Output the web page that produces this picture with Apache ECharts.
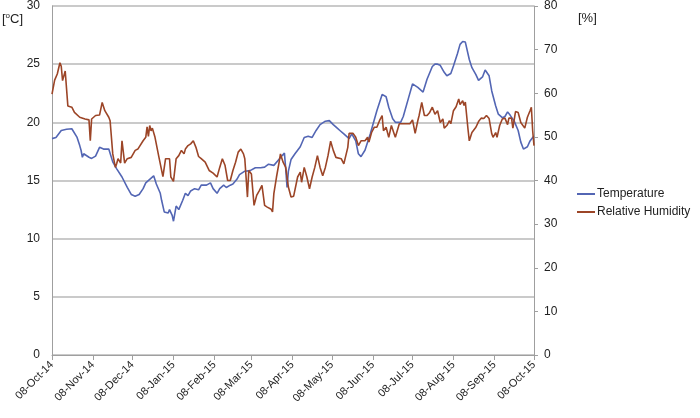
<!DOCTYPE html>
<html>
<head>
<meta charset="utf-8">
<script src="https://cdn.jsdelivr.net/npm/echarts@6/dist/echarts.min.js"></script>
<style>
  html, body { margin: 0; padding: 0; background: #fff; }
  #chart { width: 700px; height: 418px; }
</style>
</head>
<body>
<div id="chart"></div>
<script>
// Period: 08-Oct-14 .. 08-Oct-15 (daily category axis)
var startDate = [2014, 9, 8];
var dayCount = 366;
var monthNames = ['Jan','Feb','Mar','Apr','May','Jun','Jul','Aug','Sep','Oct','Nov','Dec'];

// Temperature [°C] readings: day offset from 08-Oct-14 and value
var tempDay = [0,1,3,7,11,15,16,19,21,22,23,24,28,30,33,36,39,43,44,46,49,53,57,60,63,66,69,71,74,77,79,82,83,85,88,89,91,92,94,96,99,101,103,105,108,111,113,117,120,122,125,127,130,132,135,137,140,142,146,150,154,158,161,164,168,171,174,176,177,178,179,181,184,188,191,194,197,200,203,207,210,213,216,218,221,225,227,230,232,234,237,241,244,246,250,253,255,258,260,264,266,270,273,277,281,284,288,290,292,294,297,299,302,304,307,309,311,313,316,318,321,323,326,328,331,333,336,338,341,343,345,347,350,353,355,357,360,362,364,365];
var tempC = [18.6,18.5,18.7,19.3,19.4,19.45,19.3,18.7,18.0,17.6,17.0,17.3,17.0,16.9,17.1,17.85,17.7,17.7,17.6,16.6,16.0,15.3,14.4,13.8,13.65,13.8,14.3,14.8,15.1,15.4,14.7,13.9,13.3,12.3,12.2,12.5,12.0,11.5,12.8,12.5,13.3,13.9,13.7,14.1,14.3,14.2,14.6,14.6,14.8,14.3,13.9,14.3,14.6,14.4,14.6,14.7,15.1,15.5,15.8,15.85,16.1,16.1,16.15,16.4,16.3,16.7,17.1,17.35,16.0,14.4,15.8,16.8,17.3,17.9,18.7,18.8,18.7,19.3,19.8,20.1,20.15,19.8,19.5,19.3,19.0,18.6,19.0,18.4,17.3,17.05,17.6,19.0,20.2,21.0,22.4,22.2,21.3,20.3,20.0,20.0,20.5,22.1,23.3,23.0,22.6,23.7,24.8,25.0,25.0,24.9,24.3,24.0,24.2,24.85,25.9,26.7,26.95,26.9,25.4,24.7,24.1,23.6,23.9,24.5,24.0,22.7,21.4,20.7,20.4,20.5,20.9,20.6,20.1,19.3,18.3,17.7,17.9,18.4,18.7,18.8];

// Relative Humidity [%] readings
var rhDay = [0,2,4,6,7,8,10,11,12,15,17,21,25,28,29,30,33,36,38,40,43,44,46,48,49,50,52,53,55,57,60,63,65,69,71,72,73,74,75,76,78,81,84,86,89,90,92,94,96,98,100,101,103,105,107,109,111,113,116,119,122,125,127,129,131,133,135,137,139,141,143,145,146,148,149,151,153,155,157,159,161,163,166,167,168,170,172,173,175,177,178,179,181,183,186,188,189,191,193,195,197,199,201,203,205,207,209,211,213,215,216,219,221,224,225,228,230,232,234,237,239,240,242,244,246,248,250,251,253,255,257,259,260,263,265,268,271,273,275,277,278,280,282,284,286,288,290,292,294,296,297,299,301,302,304,306,308,309,311,312,313,315,316,318,321,323,325,327,329,331,333,334,336,337,339,341,343,345,346,348,349,351,353,355,358,360,362,363,364,365];
var rhPct = [59.8,63.0,64.4,67.0,66.2,62.9,65.1,64.8,57.1,56.8,55.6,54.5,54.1,53.9,49.1,54.1,54.9,55.0,57.9,56.0,54.5,53.7,46.1,43.0,43.9,45.0,44.0,49.1,44.0,45.0,45.3,46.9,47.2,49.1,49.9,52.3,50.1,52.6,51.4,52.0,49.9,45.3,40.9,45.0,45.0,40.8,39.8,45.0,45.7,46.9,46.1,47.2,48.0,48.4,49.1,47.6,45.5,45.0,44.2,42.3,41.7,40.8,43.0,45.0,43.5,40.0,40.0,42.3,44.2,46.5,47.2,46.1,45.0,36.2,42.3,41.5,34.3,36.6,37.7,38.9,34.3,33.9,33.4,32.8,37.0,40.8,44.2,46.1,44.2,43.0,43.0,38.5,36.2,36.4,40.8,41.9,39.6,43.0,40.8,38.1,40.8,43.0,45.7,43.0,41.1,43.0,45.7,49.0,46.9,45.3,45.0,45.0,43.8,47.6,50.8,50.8,49.9,48.0,49.1,49.1,49.9,48.8,51.0,52.2,52.2,53.7,54.9,51.4,52.2,49.9,52.6,50.8,49.9,53.0,53.0,53.0,53.0,53.9,50.8,53.7,54.9,57.9,54.9,54.9,55.6,56.8,55.2,56.0,53.3,54.1,52.0,52.6,53.7,53.0,56.0,56.9,58.7,57.4,58.3,57.2,58.0,51.8,49.1,51.0,52.2,53.5,54.3,54.2,54.9,54.2,50.7,49.9,51.0,49.9,52.6,54.1,54.3,52.8,54.3,54.3,52.0,55.8,55.6,53.3,52.0,54.5,56.0,56.8,51.4,48.0];

// Axis tick values
var tempTicks = [0, 5, 10, 15, 20, 25, 30];
var rhTicks = [0, 10, 20, 30, 40, 50, 60, 70, 80];

function pad(n) { return (n < 10 ? '0' : '') + n; }
var categories = [];
var dayOfMonth = [];
for (var i = 0; i < dayCount; i++) {
  var d = new Date(Date.UTC(startDate[0], startDate[1], startDate[2] + i));
  dayOfMonth.push(d.getUTCDate());
  categories.push(pad(d.getUTCDate()) + '-' + monthNames[d.getUTCMonth()] + '-' + String(d.getUTCFullYear()).slice(2));
}
function toSeries(days, vals) {
  var arr = new Array(dayCount).fill(null);
  for (var k = 0; k < days.length; k++) arr[days[k]] = vals[k];
  return arr;
}
var isMonthTick = function (idx) { return dayOfMonth[idx] === 8; };

var font = 'Liberation Sans';
var chart = echarts.init(document.getElementById('chart'), null, { renderer: 'canvas' });
chart.setOption({
  animation: false,
  backgroundColor: '#ffffff',
  textStyle: { fontFamily: font },
  grid: { left: 52, right: 166, top: 5, bottom: 63, containLabel: false },
  legend: {
    orient: 'vertical',
    left: 572,
    top: 183,
    itemWidth: 18,
    itemHeight: 2,
    itemGap: 6,
    icon: 'rect',
    textStyle: { fontFamily: font, fontSize: 12, color: '#222', padding: [0, 0, 0, -3] },
    data: ['Temperature', 'Relative Humidity']
  },
  graphic: [
    { type: 'text', left: 2, top: 12, style: { text: '[{s|o}C]', fontFamily: font, fontSize: 13, fill: '#222',
      rich: { s: { fontSize: 8, verticalAlign: 'top', padding: [0, 0, 6, 0], fill: '#222', fontFamily: font } } } },
    { type: 'text', left: 578, top: 12, style: { text: '[%]', fontFamily: font, fontSize: 13, fill: '#222' } }
  ],
  xAxis: {
    type: 'category',
    data: categories,
    boundaryGap: false,
    axisLine: { show: true, lineStyle: { color: '#9f9f9f', width: 1 } },
    axisTick: { show: true, interval: isMonthTick, length: 5, lineStyle: { color: '#9f9f9f' } },
    axisLabel: { interval: isMonthTick, rotate: 45, fontSize: 11, color: '#222', margin: 8, fontFamily: font },
    splitLine: { show: false }
  },
  yAxis: [
    {
      type: 'value', min: tempTicks[0], max: tempTicks[tempTicks.length - 1], interval: 5, position: 'left',
      axisLine: { show: true, lineStyle: { color: '#9f9f9f' } },
      axisTick: { show: false },
      axisLabel: { fontSize: 12, color: '#222', margin: 12, fontFamily: font },
      splitLine: { show: true, lineStyle: { color: '#b8b8b8', width: 1.5 } }
    },
    {
      type: 'value', min: rhTicks[0], max: rhTicks[rhTicks.length - 1], interval: 10, position: 'right',
      axisLine: { show: true, lineStyle: { color: '#9f9f9f' } },
      axisTick: { show: true, length: 4, lineStyle: { color: '#9f9f9f' } },
      axisLabel: { fontSize: 12, color: '#222', margin: 10, fontFamily: font },
      splitLine: { show: false }
    }
  ],
  series: [
    {
      name: 'Temperature', type: 'line', yAxisIndex: 0, data: toSeries(tempDay, tempC),
      connectNulls: true, showSymbol: false, symbol: 'none',
      lineStyle: { color: '#5366b4', width: 1.6 }, itemStyle: { color: '#5366b4' }
    },
    {
      name: 'Relative Humidity', type: 'line', yAxisIndex: 1, data: toSeries(rhDay, rhPct),
      connectNulls: true, showSymbol: false, symbol: 'none',
      lineStyle: { color: '#9c4527', width: 1.6 }, itemStyle: { color: '#9c4527' }
    }
  ]
});
</script>
</body>
</html>
